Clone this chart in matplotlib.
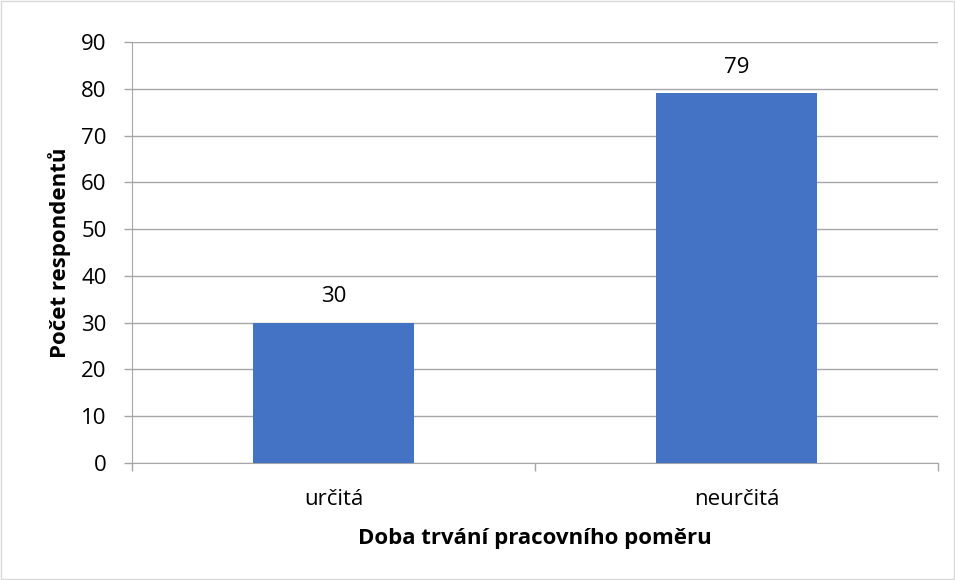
import matplotlib.pyplot as plt
from matplotlib.patches import Rectangle

categories = ['určitá', 'neurčitá']
values = [30, 79]
yticks = [0, 10, 20, 30, 40, 50, 60, 70, 80, 90]

plt.rcParams['font.family'] = ['Open Sans', 'DejaVu Sans']

fig = plt.figure(figsize=(9.55, 5.8), dpi=100)
ax = fig.add_axes([132 / 955, 1 - 463 / 580, (938 - 132) / 955, (463 - 42) / 580])

x = list(range(len(categories)))
ax.bar(x, values, width=0.4, color='#4472c4', zorder=3)
for xi, v in zip(x, values):
    ax.text(xi, v + 3.4, str(v), ha='center', va='bottom', fontsize=16, color='#000000')

ax.set_xlim(-0.5, len(categories) - 0.5)
ax.set_ylim(0, 90)
ax.set_yticks(yticks)
ax.tick_params(axis='y', labelsize=16, length=5.8, color='#a6a6a6', width=1, pad=12.5)
ax.grid(axis='y', color='#a6a6a6', linewidth=1, zorder=0)

# category boundaries as tick marks, labels centered
ax.set_xticks([-0.5, 0.5, 1.5])
ax.set_xticklabels(['', '', ''])
ax.set_xticks(x, minor=True)
ax.set_xticklabels(categories, minor=True)
ax.tick_params(axis='x', which='major', length=5.8, color='#a6a6a6', width=1)
ax.tick_params(axis='x', which='minor', length=0, labelsize=16, pad=19)

for side in ['top', 'right']:
    ax.spines[side].set_visible(False)
ax.spines['left'].set_color('#a6a6a6')
ax.spines['bottom'].set_color('#a6a6a6')

ax.set_xlabel('Doba trvání pracovního poměru', fontsize=16, fontweight='bold', labelpad=13)
ax.set_ylabel('Počet respondentů', fontsize=16, fontweight='bold', labelpad=7)

fig.patches.append(Rectangle((0.001, 0.001), 0.998, 0.998, transform=fig.transFigure,
                             fill=False, edgecolor='#d9d9d9', linewidth=1))

fig.savefig('out.png', dpi=100)
